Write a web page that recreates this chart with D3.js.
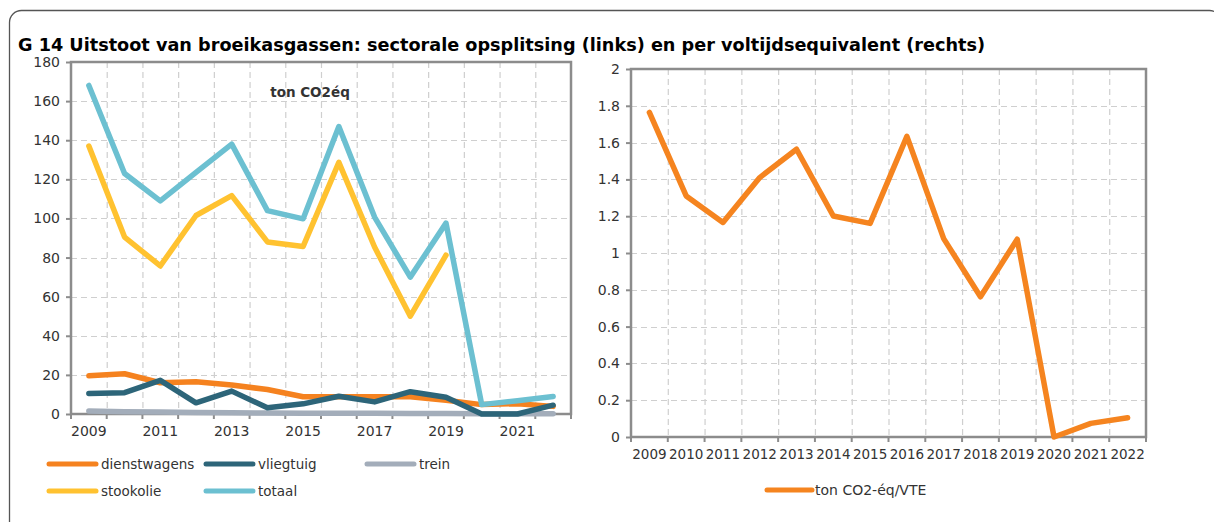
<!DOCTYPE html>
<html lang="nl">
<head>
<meta charset="UTF-8">
<title>G 14 Uitstoot van broeikasgassen</title>
<script src="https://d3js.org/d3.v7.min.js"></script>
<style>
  body { margin: 0; background: #fff; }
  svg text { font-family: "DejaVu Sans", sans-serif; fill: #333; }
</style>
</head>
<body>
<div id="chart"></div>
<script>
// jaren
const years = [2009, 2010, 2011, 2012, 2013, 2014, 2015, 2016, 2017, 2018, 2019, 2020, 2021, 2022];

// links: ton CO2eq per sector
const dienstwagens = [19.5, 20.6, 16, 16.5, 14.8, 12.5, 8.8, 8.8, 8.8, 8.8, 7, 4.8, 5.3, 3.9];
const vliegtuig    = [10.5, 10.9, 17.2, 5.7, 11.7, 3.2, 5.2, 9.1, 6.2, 11.4, 8.6, 0, 0, 4.5];
const trein        = [1.5, 1.2, 1.0, 0.8, 0.6, 0.5, 0.4, 0.4, 0.4, 0.3, 0.3, 0.1, 0.1, 0.1];
const stookolie    = [137, 90.5, 75.7, 101.5, 111.7, 88, 85.7, 128.7, 85.4, 50, 81.2, null, null, null];
const totaal       = [168, 123, 109, 123.6, 138, 104, 99.8, 147, 100.7, 70, 97.6, 4.8, 6.8, 9];

// rechts: ton CO2-eq per VTE
const perVTE = [1.764, 1.31, 1.166, 1.41, 1.564, 1.201, 1.161, 1.634, 1.078, 0.762, 1.075, 0, 0.074, 0.105];

const leftTicks = [0, 20, 40, 60, 80, 100, 120, 140, 160, 180];
const rightTicks = [0, 0.2, 0.4, 0.6, 0.8, 1, 1.2, 1.4, 1.6, 1.8, 2];
const leftYearLabels = [2009, 2011, 2013, 2015, 2017, 2019, 2021];

const series = [
  { name: "dienstwagens", values: dienstwagens, color: "#F5821F" },
  { name: "vliegtuig", values: vliegtuig, color: "#2D6579" },
  { name: "trein", values: trein, color: "#A3ADBA" },
  { name: "stookolie", values: stookolie, color: "#FFC230" },
  { name: "totaal", values: totaal, color: "#6CC0D1" }
];
// tekenvolgorde (trein onderaan, totaal bovenaan)
const drawOrder = ["trein", "stookolie", "dienstwagens", "vliegtuig", "totaal"];

const W = 1214, H = 522;
const svg = d3.select("#chart").append("svg")
  .attr("width", W).attr("height", H);

// kader
svg.append("rect")
  .attr("x", 9.5).attr("y", 10.5)
  .attr("width", 1212).attr("height", 620)
  .attr("rx", 12)
  .attr("fill", "none")
  .attr("stroke", "#555")
  .attr("stroke-width", 1.3);

svg.append("text")
  .attr("x", 18).attr("y", 51)
  .attr("font-size", 17.5)
  .attr("font-weight", "bold")
  .attr("textLength", 967)
  .attr("lengthAdjust", "spacingAndGlyphs")
  .style("fill", "#000")
  .text("G 14 Uitstoot van broeikasgassen: sectorale opsplitsing (links) en per voltijdsequivalent (rechts)");

function panel(opts) {
  const g = svg.append("g");
  const x = d3.scaleBand().domain(years).range([opts.x0, opts.x1]);
  const y = d3.scaleLinear().domain(opts.yDomain).range([opts.y0, opts.y1]);

  // rasterlijnen
  g.selectAll(".vg").data(years.slice(1)).join("line")
    .attr("x1", d => x(d) + 0.5).attr("x2", d => x(d) + 0.5)
    .attr("y1", opts.y1).attr("y2", opts.y0)
    .attr("stroke", "#cfcfcf").attr("stroke-width", 1.2).attr("stroke-dasharray", "6,4");
  g.selectAll(".hg").data(opts.ticks.slice(1, -1)).join("line")
    .attr("x1", opts.x0).attr("x2", opts.x1)
    .attr("y1", d => Math.round(y(d)) + 0.5).attr("y2", d => Math.round(y(d)) + 0.5)
    .attr("stroke", "#cfcfcf").attr("stroke-width", 1.2).attr("stroke-dasharray", "6,4");

  // kader van plotgebied
  g.append("rect")
    .attr("x", opts.x0).attr("y", opts.y1)
    .attr("width", opts.x1 - opts.x0).attr("height", opts.y0 - opts.y1)
    .attr("fill", "none").attr("stroke", "#8c8c8c").attr("stroke-width", 2.5);

  // y-as
  const yAxis = g.append("g")
    .attr("transform", `translate(${opts.x0},0)`)
    .call(d3.axisLeft(y).tickValues(opts.ticks).tickSize(5).tickPadding(6).tickFormat(opts.fmt));
  yAxis.select(".domain").remove();
  yAxis.selectAll("line").attr("stroke", "#8c8c8c").attr("stroke-width", 2);
  yAxis.selectAll("text").attr("font-size", 14).style("font-family", "DejaVu Sans").style("fill", "#333");

  // x-as: streepjes op klassegrenzen
  const bounds = years.map(d => x(d)).concat([opts.x1]);
  g.selectAll(".xt").data(bounds).join("line")
    .attr("x1", d => d).attr("x2", d => d)
    .attr("y1", opts.y0).attr("y2", opts.y0 + 5)
    .attr("stroke", "#8c8c8c").attr("stroke-width", 2);
  g.selectAll(".xl").data(opts.xLabels).join("text")
    .attr("x", d => x(d) + x.bandwidth() / 2)
    .attr("y", opts.y0 + 22)
    .attr("text-anchor", "middle")
    .attr("font-size", opts.xFont)
    .text(d => d);

  return { g, x, y };
}

// linker grafiek
const L = panel({
  x0: 71, x1: 571, y0: 414, y1: 62,
  yDomain: [0, 180], ticks: leftTicks, fmt: d3.format("d"),
  xLabels: leftYearLabels, xFont: 14
});

L.g.append("text")
  .attr("x", 310).attr("y", 97)
  .attr("text-anchor", "middle")
  .attr("font-size", 13.5)
  .attr("font-weight", "bold")
  .text("ton CO2éq");

drawOrder.forEach(name => {
  const s = series.find(d => d.name === name);
  const line = d3.line()
    .defined(d => d != null)
    .x((d, i) => L.x(years[i]) + L.x.bandwidth() / 2)
    .y(d => L.y(d));
  L.g.append("path")
    .datum(s.values)
    .attr("d", line)
    .attr("fill", "none")
    .attr("stroke", s.color)
    .attr("stroke-width", 5.5)
    .attr("stroke-linejoin", "round")
    .attr("stroke-linecap", "round");
});

// legenda links
const legendPos = [
  { x: 47, y: 464 }, { x: 204, y: 464 }, { x: 365, y: 464 },
  { x: 47, y: 491 }, { x: 204, y: 491 }
];
series.forEach((s, i) => {
  const p = legendPos[i];
  svg.append("line")
    .attr("x1", p.x + 2).attr("x2", p.x + 49)
    .attr("y1", p.y).attr("y2", p.y)
    .attr("stroke", s.color).attr("stroke-width", 5).attr("stroke-linecap", "round");
  svg.append("text")
    .attr("x", p.x + 54).attr("y", p.y + 5)
    .attr("font-size", 13.5)
    .text(s.name);
});

// rechter grafiek
const R = panel({
  x0: 631, x1: 1146, y0: 437, y1: 69,
  yDomain: [0, 2], ticks: rightTicks, fmt: d => d3.format("")(d),
  xLabels: years, xFont: 13.5
});

R.g.append("path")
  .datum(perVTE)
  .attr("d", d3.line()
    .x((d, i) => R.x(years[i]) + R.x.bandwidth() / 2)
    .y(d => R.y(d)))
  .attr("fill", "none")
  .attr("stroke", "#F5841F")
  .attr("stroke-width", 5.5)
  .attr("stroke-linejoin", "round")
  .attr("stroke-linecap", "round");

svg.append("line")
  .attr("x1", 767).attr("x2", 812)
  .attr("y1", 490).attr("y2", 490)
  .attr("stroke", "#F5841F").attr("stroke-width", 5).attr("stroke-linecap", "round");
svg.append("text")
  .attr("x", 815).attr("y", 495)
  .attr("font-size", 14)
  .text("ton CO2-éq/VTE");
</script>
</body>
</html>
